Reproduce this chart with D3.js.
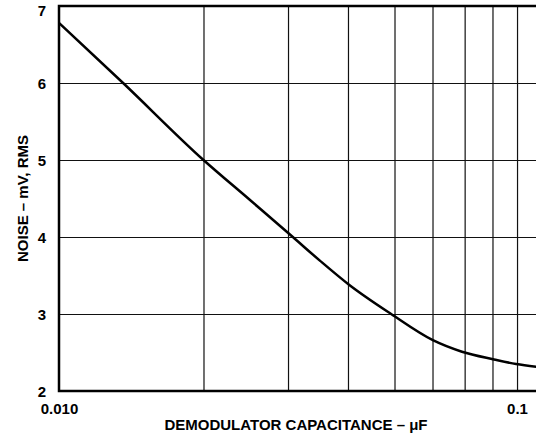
<!DOCTYPE html>
<html>
<head>
<meta charset="utf-8">
<script src="https://cdn.jsdelivr.net/npm/d3@7"></script>
<style>
  body { margin: 0; background: #fff; }
  svg { display: block; font-family: "Liberation Sans", Arial, sans-serif; font-weight: bold; }
</style>
</head>
<body>
<div id="chart"></div>
<script>
// Data
const capacitance = [0.01, 0.0136, 0.02, 0.025, 0.0307, 0.035, 0.0402, 0.0492, 0.0601, 0.0691, 0.0806, 0.0896, 0.1];
const noise = [6.78, 6.0, 5.0, 4.48, 4.0, 3.69, 3.38, 3.0, 2.66, 2.51, 2.41, 2.35, 2.31];

const xGrid = [0.02, 0.03, 0.04, 0.05, 0.06, 0.07, 0.08, 0.09];
const xTicks = [0.01, 0.1];
const xTickLabels = ["0.010", "0.1"];
const yTicks = [2, 3, 4, 5, 6, 7];

const width = 536, height = 436;
const margin = { top: 6, right: -3, bottom: 45, left: 59 };
const innerW = width - margin.left - margin.right;
const innerH = height - margin.top - margin.bottom;

const svg = d3.select("#chart").append("svg")
  .attr("width", width).attr("height", height);

const plot = svg.append("g")
  .attr("transform", `translate(${margin.left},${margin.top})`);

const x = d3.scaleLog().domain([0.01, 0.1]).range([0, innerW]);
const y = d3.scaleLinear().domain([2, 7]).range([innerH, 0]);

// grid
plot.append("g")
  .attr("transform", `translate(0,${innerH})`)
  .call(d3.axisBottom(x).tickValues(xGrid).tickSize(-innerH).tickFormat(""))
  .call(g => g.select(".domain").remove())
  .call(g => g.selectAll("line").attr("stroke", "#111").attr("stroke-width", 1.2));

plot.append("g")
  .call(d3.axisLeft(y).tickValues(yTicks).tickSize(-innerW).tickFormat(""))
  .call(g => g.select(".domain").remove())
  .call(g => g.selectAll("line").attr("stroke", "#111").attr("stroke-width", 1.2));

// frame
plot.append("rect")
  .attr("width", innerW).attr("height", innerH)
  .attr("fill", "none").attr("stroke", "#000").attr("stroke-width", 2.5);

// axes labels
const xAxis = plot.append("g")
  .attr("transform", `translate(0,${innerH})`)
  .call(d3.axisBottom(x).tickValues(xTicks).tickSize(0).tickPadding(12)
    .tickFormat((d, i) => xTickLabels[i]))
  .call(g => g.select(".domain").remove());
xAxis.selectAll("text")
  .attr("font-size", 15).attr("font-family", null).attr("fill", "#000")
  .filter((d, i) => i === 1).attr("x", -22);

plot.append("g")
  .call(d3.axisLeft(y).tickValues(yTicks).tickSize(0).tickPadding(13).tickFormat(d3.format("d")))
  .call(g => g.select(".domain").remove())
  .call(g => g.selectAll("text").attr("font-size", 15).attr("font-family", null)
    .attr("fill", "#000").attr("dy", d => d === 7 ? "0.62em" : "0.38em"));

// curve
const line = d3.line()
  .x((d, i) => x(capacitance[i]))
  .y(d => y(d))
  .curve(d3.curveMonotoneX);

plot.append("path")
  .datum(noise)
  .attr("fill", "none")
  .attr("stroke", "#000")
  .attr("stroke-width", 2.5)
  .attr("d", line);

// titles
svg.append("text")
  .attr("x", 296).attr("y", 430)
  .attr("text-anchor", "middle").attr("font-size", 15)
  .text("DEMODULATOR CAPACITANCE – μF");

svg.append("text")
  .attr("transform", `translate(28,${margin.top + innerH / 2}) rotate(-90)`)
  .attr("text-anchor", "middle").attr("font-size", 15)
  .text("NOISE – mV, RMS");
</script>
</body>
</html>
